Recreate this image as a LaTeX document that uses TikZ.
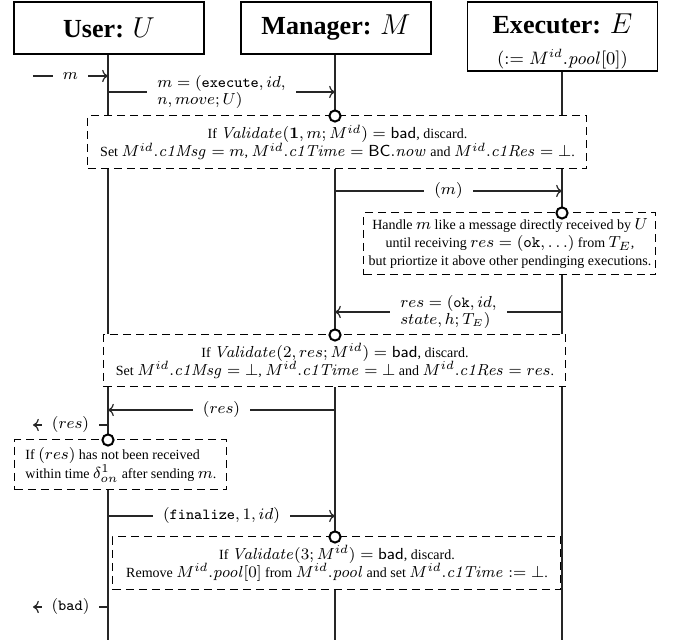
\documentclass[tikz,border=0pt]{standalone}
\usepackage[no-math]{fontspec}
\setmainfont[Scale=0.875]{Liberation Serif}
\usetikzlibrary{arrows.meta}
\begin{document}
\begin{tikzpicture}[x=0.5pt,y=-0.5pt,
 life/.style={line width=0.7pt, draw=black!85},
 hdr/.style={draw, line width=0.6pt, fill=white, minimum width=95pt, inner sep=0pt,
   font=\fontsize{14.9}{17}\selectfont\bfseries, align=center},
 htxt/.style={inner sep=0pt, font=\fontsize{14.9}{17}\selectfont\bfseries},
 hsub/.style={inner sep=0pt, font=\fontsize{8.6}{10}\selectfont},
 note/.style={draw, dash pattern=on 4pt off 2.5pt, line width=0.5pt, fill=white,
   inner sep=0pt, font=\fontsize{8}{9}\selectfont, align=center},
 notel/.style={note, align=left},
 dot/.style={circle, draw, line width=1pt, fill=white, minimum size=5.6pt, inner sep=0pt},
 msg/.style={->, line width=0.6pt, draw=black!85},
 lbl/.style={fill=white, font=\fontsize{7.7}{8.6}\selectfont, inner xsep=5pt, inner ysep=1pt, align=left}
]
\useasboundingbox (0,0) rectangle (677,640);

% headers
\node[hdr, minimum height=26pt] (hu) at (109,28) {User: $U$};
\node[hdr, minimum height=26pt] (hm) at (336,28) {Manager: $M$};
\node[hdr, minimum height=34.5pt] (he) at (562.5,36.5) {};
\node[htxt] (het) at (562.5,24) {Executer: $E$};
\node[hsub] (hes) at (562.5,59) {$(:= M^{id}.\mathit{pool}[0])$};

% lifeline ends
\coordinate (ue) at (108,640);
\coordinate (me) at (335,640);
\coordinate (ee) at (562,640);

% boxes
\node[note, minimum width=249.5pt, minimum height=26.5pt] (b1) at (337.5,142.5)
 {If $\mathit{Validate}(\mathbf{1}, m; M^{id}) = \textsf{bad}$, discard.\\
  Set $M^{id}.\mathit{c1Msg} = m$, $M^{id}.\mathit{c1Time} = \textsf{BC}.\mathit{now}$ and $M^{id}.\mathit{c1Res} = \bot$.};
\node[note, minimum width=146pt, minimum height=31pt] (b2) at (510,244)
 {Handle $m$ like a message directly received by $U$\\
  until receiving $res = (\texttt{ok}, \ldots)$ from $T_E$,\\
  but priortize it above other pendinging executions.};
\node[note, minimum width=231pt, minimum height=26pt] (b3) at (335,361)
 {If $\mathit{Validate}(2, res; M^{id}) = \textsf{bad}$, discard.\\
  Set $M^{id}.\mathit{c1Msg} = \bot$, $M^{id}.\mathit{c1Time} = \bot$ and $M^{id}.\mathit{c1Res} = res$.};
\node[notel, minimum width=106pt, minimum height=25pt, font=\fontsize{8}{9.6}\selectfont] (b4) at (121,465)
 {If $(res)$ has not been received\\
  within time $\delta^1_{on}$ after sending $m$.};
\node[note, minimum width=224pt, minimum height=26.5pt] (b5) at (337,563.5)
 {If $\mathit{Validate}(3; M^{id}) = \textsf{bad}$, discard.\\
  Remove $M^{id}.\mathit{pool}[0]$ from $M^{id}.\mathit{pool}$ and set $M^{id}.\mathit{c1Time} := \bot$.};

% lifelines (interrupted by the boxes)
\draw[life] (hu.south -| ue) -- (b1.north -| ue);
\draw[life] (b1.south -| ue) -- (b3.north -| ue);
\draw[life] (b3.south -| ue) -- (b4.north -| ue);
\draw[life] (b4.south -| ue) -- (ue);
\draw[life] (hm.south -| me) -- (b1.north -| me);
\draw[life] (b1.south -| me) -- (b3.north -| me);
\draw[life] (b3.south -| me) -- (b5.north -| me);
\draw[life] (b5.south -| me) -- (me);
\draw[life] (he.south -| ee) -- (b1.north -| ee);
\draw[life] (b1.south -| ee) -- (b2.north -| ee);
\draw[life] (b2.south -| ee) -- (b3.north -| ee);
\draw[life] (b3.south -| ee) -- (ee);

% activation dots
\node[dot] (c1) at (335,116) {};
\node[dot] (c2) at (562,213) {};
\node[dot] (c3) at (335,335) {};
\node[dot] (c4) at (108,440) {};
\node[dot] (c5) at (335,537) {};

% incoming m
\coordinate (min) at (33,76);
\coordinate (u1) at (108,76);
\draw[msg] (min) -- node[lbl]{$m$} (u1);

% execute message
\coordinate (u2) at (108,92);
\coordinate (m2) at (335,92);
\draw[msg] (u2) -- node[lbl]{$m = (\texttt{execute}, id,$\\$n, move; U)$} (m2);

% (m) to executer
\coordinate (m3) at (335,191);
\coordinate (e3) at (562,191);
\draw[msg] (m3) -- node[lbl]{$(m)$} (e3);

% res back to manager
\coordinate (e4) at (562,312);
\coordinate (m4) at (335,312);
\draw[msg] (e4) -- node[lbl]{$res = (\texttt{ok}, id,$\\$state, h; T_E)$} (m4);

% (res) to user
\coordinate (m5) at (335,410);
\coordinate (u5) at (108,410);
\draw[msg] (m5) -- node[lbl]{$(res)$} (u5);

% (res) out
\coordinate (u6) at (108,425);
\coordinate (rout) at (33,425);
\draw[msg] (u6) -- node[lbl]{$(res)$} (rout);

% finalize
\coordinate (u7) at (108,516);
\coordinate (m7) at (335,516);
\draw[msg] (u7) -- node[lbl]{$(\texttt{finalize}, 1, id)$} (m7);

% (bad) out
\coordinate (u8) at (108,607);
\coordinate (bout) at (33,607);
\draw[msg] (u8) -- node[lbl]{$(\texttt{bad})$} (bout);
\end{tikzpicture}
\end{document}
